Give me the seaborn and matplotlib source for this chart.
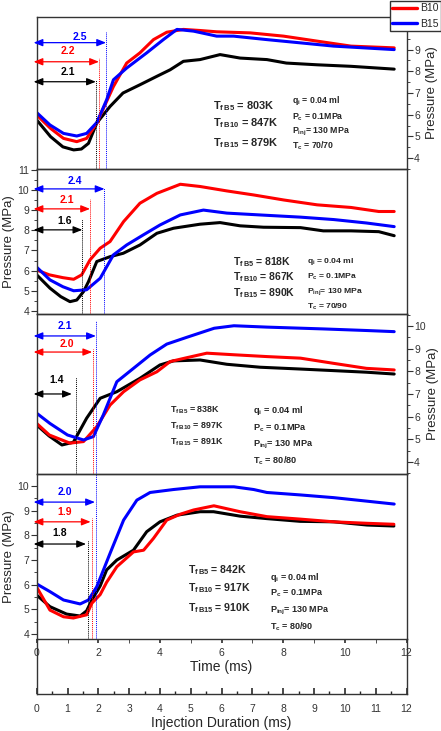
import numpy as np
import pandas as pd
import seaborn as sns
import matplotlib.pyplot as plt
from matplotlib.lines import Line2D
from matplotlib.ticker import MultipleLocator

# ---- data (time in ms, pressure in MPa) ----
# panel 1 : Tc = 70/70
p1_b5_t = [0, 0.45, 0.85, 1.2, 1.45, 1.68, 1.95, 2.38, 2.8, 3.35, 3.9, 4.33, 4.76, 5.3, 5.95, 6.6, 7.47, 8.1, 9.1, 10.2, 11.6]
p1_b5_p = [5.76, 4.99, 4.52, 4.38, 4.42, 4.68, 5.62, 6.38, 7.0, 7.38, 7.77, 8.07, 8.46, 8.54, 8.77, 8.61, 8.54, 8.38, 8.3, 8.23, 8.1]
p1_b10_t = [0, 0.45, 0.87, 1.3, 1.62, 1.95, 2.2, 2.49, 2.92, 3.35, 3.79, 4.22, 4.76, 5.3, 5.84, 6.93, 8.01, 9.1, 10.2, 11.6]
p1_b10_p = [5.99, 5.37, 4.91, 4.76, 4.91, 5.62, 6.4, 7.3, 8.38, 8.85, 9.46, 9.8, 9.93, 9.88, 9.82, 9.77, 9.62, 9.39, 9.16, 9.08]
p1_b15_t = [0, 0.43, 0.87, 1.3, 1.62, 1.95, 2.27, 2.49, 2.92, 3.57, 4.11, 4.55, 5.09, 5.84, 6.39, 7.47, 8.56, 9.64, 11.6]
p1_b15_p = [6.1, 5.53, 5.14, 5.02, 5.14, 5.64, 6.69, 7.61, 8.15, 8.85, 9.46, 9.93, 9.85, 9.62, 9.62, 9.46, 9.31, 9.16, 9.0]

# panel 2 : Tc = 70/90
p2_b5_t = [0, 0.43, 0.78, 1.08, 1.3, 1.52, 1.68, 1.95, 2.38, 2.81, 3.35, 3.9, 4.44, 5.3, 5.95, 6.6, 7.36, 8.56, 9.3, 10.2, 11.1, 11.6]
p2_b5_p = [5.79, 5.13, 4.71, 4.46, 4.54, 4.96, 5.45, 6.45, 6.69, 6.86, 7.27, 7.85, 8.1, 8.3, 8.38, 8.22, 8.15, 8.13, 7.97, 7.97, 7.93, 7.73]
p2_b10_t = [0, 0.41, 0.85, 1.2, 1.46, 1.73, 2.06, 2.38, 2.82, 3.35, 3.9, 4.66, 5.3, 6.17, 7.04, 8.02, 9.1, 10.2, 11.1, 11.6]
p2_b10_p = [6.03, 5.79, 5.65, 5.57, 5.79, 6.53, 7.11, 7.44, 8.43, 9.34, 9.83, 10.28, 10.17, 9.95, 9.75, 9.5, 9.26, 9.13, 8.93, 8.93]
p2_b15_t = [0, 0.43, 0.85, 1.2, 1.62, 2.06, 2.49, 2.92, 3.46, 4.0, 4.66, 5.41, 6.17, 7.47, 8.56, 9.64, 10.7, 11.6]
p2_b15_p = [6.17, 5.54, 5.2, 5.0, 5.05, 5.62, 6.78, 7.27, 7.77, 8.26, 8.76, 9.0, 8.85, 8.74, 8.65, 8.53, 8.36, 8.18]

# panel 3 : Tc = 80/80
p3_b5_t = [0, 0.4, 0.82, 1.19, 1.62, 2.06, 2.6, 3.35, 4.0, 4.44, 5.3, 6.17, 7.25, 8.56, 9.64, 10.7, 11.6]
p3_b5_p = [5.63, 5.15, 4.75, 4.87, 5.93, 6.81, 7.1, 7.69, 8.28, 8.46, 8.5, 8.31, 8.18, 8.1, 8.03, 7.96, 7.88]
p3_b10_t = [0, 0.41, 1.08, 1.52, 1.95, 2.38, 2.82, 3.35, 3.9, 4.33, 4.87, 5.52, 6.4, 7.47, 8.56, 9.64, 10.7, 11.6]
p3_b10_p = [5.7, 5.19, 4.83, 4.9, 5.56, 6.51, 7.1, 7.62, 7.98, 8.43, 8.6, 8.8, 8.73, 8.65, 8.58, 8.35, 8.13, 8.06]
p3_b15_t = [0, 0.43, 1.0, 1.52, 1.84, 2.16, 2.6, 3.14, 3.68, 4.22, 4.87, 5.76, 6.4, 7.47, 9.3, 10.7, 11.6]
p3_b15_p = [6.15, 5.7, 5.19, 4.97, 5.12, 6.07, 7.54, 8.13, 8.72, 9.2, 9.5, 9.9, 10.01, 9.95, 9.87, 9.8, 9.75]

# panel 4 : Tc = 80/90
p4_b5_t = [0, 0.43, 0.97, 1.41, 1.62, 1.79, 2.06, 2.27, 2.6, 3.14, 3.57, 4.0, 4.55, 5.3, 5.74, 6.6, 7.47, 8.55, 9.64, 10.72, 11.59]
p4_b5_p = [5.58, 5.11, 4.81, 4.73, 4.94, 5.38, 5.95, 6.6, 7.0, 7.4, 8.15, 8.55, 8.82, 8.96, 8.96, 8.78, 8.68, 8.57, 8.55, 8.42, 8.38]
p4_b10_t = [0, 0.43, 0.87, 1.19, 1.62, 1.79, 2.06, 2.27, 2.6, 3.14, 3.47, 3.79, 4.22, 4.66, 5.09, 5.75, 6.6, 7.47, 8.55, 9.64, 10.72, 11.59]
p4_b10_p = [5.9, 4.97, 4.7, 4.65, 4.78, 5.25, 5.6, 6.1, 6.73, 7.33, 7.4, 7.88, 8.62, 8.86, 9.03, 9.2, 8.96, 8.76, 8.66, 8.55, 8.49, 8.45]
p4_b15_t = [0, 0.43, 0.87, 1.41, 1.68, 1.95, 2.38, 2.82, 3.25, 3.68, 4.44, 5.3, 6.4, 7.04, 7.47, 8.56, 9.64, 10.7, 11.6]
p4_b15_p = [6.03, 5.72, 5.38, 5.22, 5.38, 5.92, 7.27, 8.62, 9.43, 9.74, 9.86, 9.97, 9.97, 9.86, 9.74, 9.64, 9.53, 9.39, 9.27]

# ignition delay labels and arrow ends (B5, B10, B15) per panel
delay_labels = [["2.1", "2.2", "2.5"], ["1.6", "2.1", "2.4"], ["1.4", "2.0", "2.1"], ["1.8", "1.9", "2.0"]]
arrow_ends = [[1.92, 2.02, 2.25], [1.48, 1.73, 2.2], [1.14, 1.8, 1.92], [1.6, 1.75, 1.89]]
vline_x = [[1.92, 2.02, 2.25], [1.48, 1.73, 2.2], [1.28, 1.82, 1.93], [1.68, 1.79, 1.93]]

flame_temps = [["803K", "847K", "879K"], ["818K", "867K", "890K"],
               ["838K", "897K", "891K"], ["842K", "917K", "910K"]]
tc_labels = ["70/70", "70/90", "80/80", "80/90"]
fuels = ["B5", "B10", "B15"]
colors = ["black", "red", "blue"]
panel_ticks = [[4, 5, 6, 7, 8, 9], [4, 5, 6, 7, 8, 9, 10, 11],
               [4, 5, 6, 7, 8, 9, 10], [4, 5, 6, 7, 8, 9, 10]]

# layout helpers (heights in MPa, positions in ms)
arrow_y = [[7.52, 8.44, 9.32], [8.02, 9.06, 10.05], [7.0, 8.85, 9.56], [7.65, 8.55, 9.35]]
vline_top = [[7.6, 8.6, 9.8], [8.55, 9.55, 10.1], [7.75, 9.0, 10.2], [7.8, 8.7, 10.5]]
label_x = [[1.02, 1.02, 1.41], [0.92, 0.97, 1.24], [0.65, 0.97, 0.92], [0.76, 0.92, 0.92]]
label_y = [[7.98, 8.95, 9.6], [8.46, 9.5, 10.45], [7.62, 9.2, 10.0], [8.1, 8.95, 9.76]]
ylabel_pad = [4, 2, 1, 2]
txt_pos = [
    (5.73, [6.41, 5.62, 4.69], 8.3, [6.64, 5.9, 5.2, 4.56], 7.9, 6.3),
    (6.38, [6.43, 5.69, 4.89], 8.78, [6.43, 5.69, 4.94, 4.2], 7.5, 6.1),
    (4.33, [6.29, 5.59, 4.88], 7.03, [6.25, 5.5, 4.75, 4.04], 6.4, 6.6),
    (4.92, [6.6, 5.87, 5.05], 7.58, [6.31, 5.66, 4.93, 4.28], 7.6, 6.5),
]

sns.set_theme(style="ticks")
plt.rcParams['font.family'] = ['Liberation Sans', 'DejaVu Sans']
plt.rcParams['axes.edgecolor'] = '#333333'
plt.rcParams['axes.linewidth'] = 1.0

fig = plt.figure(figsize=(4.41, 7.31), dpi=100)
L, W = 0.0832, 0.8386
ax5 = fig.add_axes([L, 0.0506, W, 0.0752])
ax1 = fig.add_axes([L, 0.7688, W, 0.2079])
ax2 = fig.add_axes([L, 0.5705, W, 0.1984])
ax3 = fig.add_axes([L, 0.3516, W, 0.2189])
ax4 = fig.add_axes([L, 0.1259, W, 0.2257])

panels = [
    (ax1, [(p1_b5_t, p1_b5_p), (p1_b10_t, p1_b10_p), (p1_b15_t, p1_b15_p)], (3.5, 10.5), 'right'),
    (ax2, [(p2_b5_t, p2_b5_p), (p2_b10_t, p2_b10_p), (p2_b15_t, p2_b15_p)], (3.85, 11.04), 'left'),
    (ax3, [(p3_b5_t, p3_b5_p), (p3_b10_t, p3_b10_p), (p3_b15_t, p3_b15_p)], (3.47, 10.53), 'right'),
    (ax4, [(p4_b5_t, p4_b5_p), (p4_b10_t, p4_b10_p), (p4_b15_t, p4_b15_p)], (3.8, 10.49), 'left'),
]
narrow = ['Liberation Sans Narrow', 'Liberation Sans']

for i, (ax, curves, ylim, side) in enumerate(panels):
    ax.patch.set_visible(False)
    for (t, p), c in zip(curves, colors):
        df = pd.DataFrame({"t": t, "p": p})
        sns.lineplot(data=df, x="t", y="p", ax=ax, color=c, lw=2.2, estimator=None, sort=False)
    ax.set_xlim(0, 12)
    ax.set_yticks(panel_ticks[i])
    ax.set_yticklabels([str(v) for v in panel_ticks[i]])
    ax.yaxis.set_minor_locator(MultipleLocator(0.5))
    ax.set_ylim(*ylim)
    ax.tick_params(axis='y', which='major', direction='out', length=4, width=0.8,
                   labelsize=7.5, pad=1.5, colors='#333333')
    ax.tick_params(axis='y', which='minor', direction='out', length=2, width=0.6)
    ax.tick_params(axis='x', which='both', bottom=False, top=False, labelbottom=False)
    ax.set_xlabel("")
    if side == 'right':
        ax.yaxis.tick_right()
        ax.yaxis.set_label_position('right')
        ax.tick_params(axis='y', which='both', left=False)
    else:
        ax.tick_params(axis='y', which='both', right=False)
    ax.set_ylabel("Pressure (MPa)", fontsize=9.5, labelpad=ylabel_pad[i])
    # ignition delay arrows
    for j, c in enumerate(colors):
        ya = arrow_y[i][j]
        ax.annotate('', xy=(arrow_ends[i][j], ya), xytext=(-0.1, ya),
                    arrowprops=dict(arrowstyle='<|-|>,head_length=0.45,head_width=0.18',
                                    color=c, lw=0.9, shrinkA=0, shrinkB=0),
                    annotation_clip=False)
        ax.text(label_x[i][j], label_y[i][j], delay_labels[i][j], color=c, fontsize=7.5,
                fontweight='bold', ha='center', va='center')
        ax.vlines(vline_x[i][j], ylim[0], vline_top[i][j], colors=c,
                  linestyles=(0, (1, 1)), lw=0.7, clip_on=False)
    # condition text
    lx, ly, rx, ry, fs_l, fs_r = txt_pos[i]
    for f, val, yy in zip(fuels, flame_temps[i], ly):
        ax.text(lx, yy, r'$\mathregular{T_{f\,%s}}$ = %s' % (f, val), fontsize=fs_l,
                fontweight='bold', family=narrow, va='center')
    right_lines = [r'$\mathregular{q_{i}}$ = 0.04 ml', r'$\mathregular{P_{c}}$ = 0.1MPa',
                   r'$\mathregular{P_{inj}}$= 130 MPa', r'$\mathregular{T_{c}}$ = ' + tc_labels[i]]
    for s, yy in zip(right_lines, ry):
        ax.text(rx, yy, s, fontsize=fs_r, fontweight='bold', family=narrow, va='center')

# time axis on the last panel
ax4.tick_params(axis='x', which='both', bottom=True, labelbottom=True, direction='out',
                labelsize=7.5, pad=3.5, colors='#333333')
ax4.xaxis.set_major_locator(MultipleLocator(2))
ax4.xaxis.set_minor_locator(MultipleLocator(1))
ax4.tick_params(axis='x', which='major', length=3)
ax4.tick_params(axis='x', which='minor', length=3, width=0.6)
ax4.set_xlabel("Time (ms)", fontsize=10, labelpad=1.5)

# injection duration axis
ax5.set_xlim(0, 12)
ax5.set_yticks([])
ax5.spines['top'].set_visible(False)
ax5.xaxis.set_major_locator(MultipleLocator(1))
ax5.xaxis.set_minor_locator(MultipleLocator(0.5))
ax5.tick_params(axis='x', which='major', direction='in', length=4, labelsize=7.5, pad=7,
                colors='#333333')
ax5.tick_params(axis='x', which='minor', direction='in', length=2)
ax5.set_xlabel("Injection Duration (ms)", fontsize=10, labelpad=1.5)

handles = [Line2D([], [], color=c, lw=2.4) for c in colors[1:]]
fig.legend(handles, fuels[1:], loc='lower left', bbox_to_anchor=(0.884, 0.9576),
           fontsize=7.5, frameon=True, fancybox=False, edgecolor='#333333',
           framealpha=1, borderpad=0.2, labelspacing=0.55, handlelength=2.4,
           handletextpad=0.3, borderaxespad=0)

fig.savefig("out.png", dpi=100)
